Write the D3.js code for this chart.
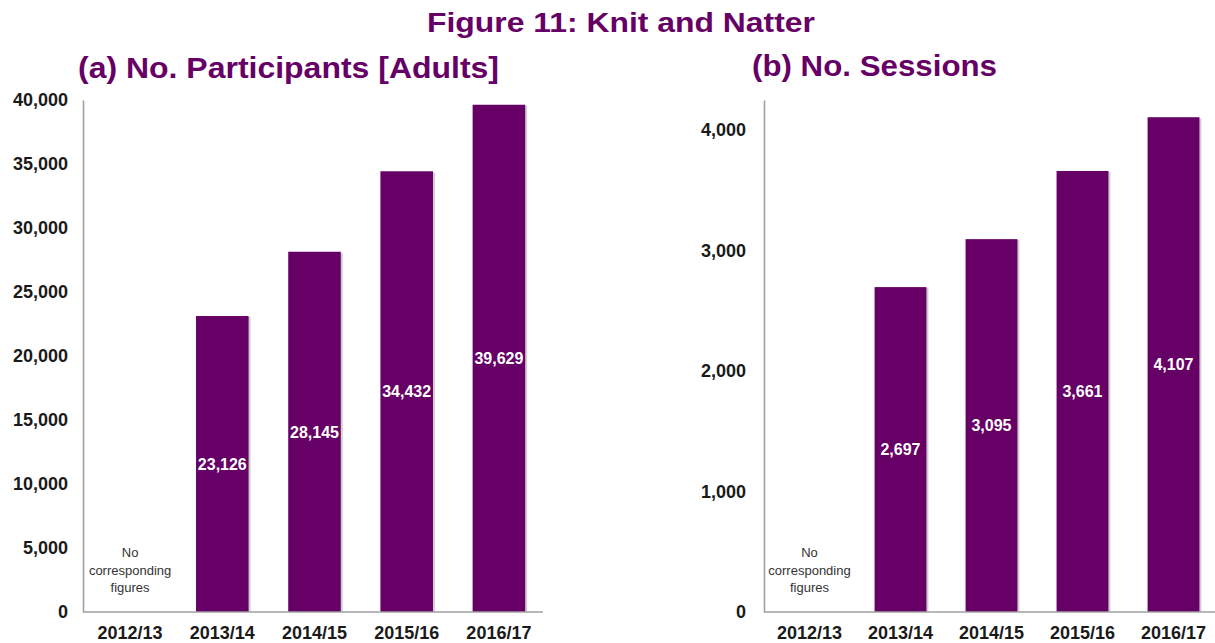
<!DOCTYPE html>
<html>
<head>
<meta charset="utf-8">
<script src="https://cdn.jsdelivr.net/npm/d3@7"></script>
<style>
  html, body { margin: 0; padding: 0; background: #fff; }
  svg { display: block; font-family: "Liberation Sans", Arial, sans-serif; }
</style>
</head>
<body>
<svg id="chart" width="1215" height="643"></svg>
<script>
// ---- Data ----
const categories = ["2012/13", "2013/14", "2014/15", "2015/16", "2016/17"];
const participants = [null, 23126, 28145, 34432, 39629];
const sessions = [null, 2697, 3095, 3661, 4107];
const participantTicks = [0, 5000, 10000, 15000, 20000, 25000, 30000, 35000, 40000];
const sessionTicks = [0, 1000, 2000, 3000, 4000];
const noteLines = ["No", "corresponding", "figures"];

const titleText = "Figure 11: Knit and Natter";
const subtitleA = "(a) No. Participants [Adults]";
const subtitleB = "(b) No. Sessions";

const purple = "#660066";
const svg = d3.select("#chart");

// Titles
svg.append("text").attr("x", 427).attr("y", 32)
  .attr("textLength", 388).attr("lengthAdjust", "spacingAndGlyphs")
  .attr("font-size", 27).attr("font-weight", "bold").attr("fill", purple)
  .text(titleText);
svg.append("text").attr("x", 78).attr("y", 78)
  .attr("textLength", 421).attr("lengthAdjust", "spacingAndGlyphs")
  .attr("font-size", 30).attr("font-weight", "bold").attr("fill", purple)
  .text(subtitleA);
svg.append("text").attr("x", 752).attr("y", 76)
  .attr("textLength", 245).attr("lengthAdjust", "spacingAndGlyphs")
  .attr("font-size", 30).attr("font-weight", "bold").attr("fill", purple)
  .text(subtitleB);

function panel(opts) {
  const { values, ticks, yMax, xRange, axisX, axisEnd, labelGap } = opts;
  const g = svg.append("g");
  const x = d3.scaleBand().domain(categories).range(xRange)
    .paddingInner(0.43).paddingOuter(0.215);
  const y = d3.scaleLinear().domain([0, yMax]).range([612, 100]);

  // y axis
  const yAxis = d3.axisLeft(y).tickValues(ticks).tickSize(0)
    .tickPadding(labelGap).tickFormat(d3.format(","));
  const ya = g.append("g").attr("transform", `translate(${axisX},0)`).call(yAxis);
  ya.select(".domain").attr("stroke", "#a0a0a0").attr("stroke-width", 1.6);
  ya.selectAll("text").attr("font-size", 18).attr("font-weight", "bold")
    .attr("fill", "#1a1a1a").attr("font-family", "Liberation Sans, Arial, sans-serif");

  // bars
  const data = categories.map((c, i) => ({ c, v: values[i] })).filter(d => d.v != null);
  g.selectAll("rect.shadow").data(data).join("rect").attr("class", "shadow")
    .attr("x", d => x(d.c) + 2).attr("width", x.bandwidth())
    .attr("y", d => y(d.v) + 1).attr("height", d => 612 - y(d.v) - 1)
    .attr("fill", "#d0d0d0");
  g.selectAll("rect.bar").data(data).join("rect").attr("class", "bar")
    .attr("x", d => x(d.c)).attr("width", x.bandwidth())
    .attr("y", d => y(d.v)).attr("height", d => 612 - y(d.v))
    .attr("fill", purple);
  g.selectAll("text.val").data(data).join("text").attr("class", "val")
    .attr("x", d => x(d.c) + x.bandwidth() / 2)
    .attr("y", d => (y(d.v) + 612) / 2)
    .attr("dy", "0.36em").attr("text-anchor", "middle")
    .attr("font-size", 16).attr("font-weight", "bold").attr("fill", "#fff")
    .text(d => d3.format(",")(d.v));

  // x axis
  const xAxis = d3.axisBottom(x).tickSize(0).tickPadding(14);
  const xa = g.append("g").attr("transform", "translate(0,612)").call(xAxis);
  xa.select(".domain").attr("d", `M${axisX},0H${axisEnd}`)
    .attr("stroke", "#a0a0a0").attr("stroke-width", 1.6);
  xa.selectAll("text").attr("font-size", 18).attr("font-weight", "bold")
    .attr("fill", "#1a1a1a").attr("font-family", "Liberation Sans, Arial, sans-serif");

  // note for missing value
  categories.forEach((c, i) => {
    if (values[i] == null) {
      const cx = x(c) + x.bandwidth() / 2;
      g.append("g").selectAll("text").data(noteLines).join("text")
        .attr("x", cx).attr("y", (d, j) => 557 + j * 17.5)
        .attr("text-anchor", "middle").attr("font-size", 13)
        .attr("fill", "#333").text(d => d);
    }
  });
}

panel({ values: participants, ticks: participantTicks, yMax: 40000,
        xRange: [84, 545], axisX: 83, axisEnd: 543, labelGap: 15 });
panel({ values: sessions, ticks: sessionTicks, yMax: 4250,
        xRange: [764, 1219], axisX: 764, axisEnd: 1215, labelGap: 18 });
</script>
</body>
</html>
